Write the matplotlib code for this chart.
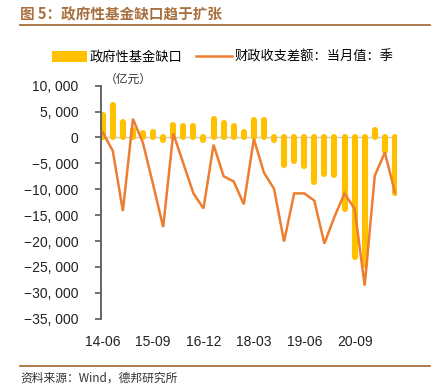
import matplotlib
matplotlib.use("Agg")
import matplotlib.pyplot as plt
from matplotlib.lines import Line2D
from matplotlib.patches import Patch
import numpy as np

plt.rcParams['font.family'] = ['Liberation Sans', 'Noto Sans CJK SC', 'DejaVu Sans']

quarters = ["14-06", "14-09", "14-12", "15-03", "15-06", "15-09", "15-12", "16-03", "16-06", "16-09",
            "16-12", "17-03", "17-06", "17-09", "17-12", "18-03", "18-06", "18-09", "18-12", "19-03",
            "19-06", "19-09", "19-12", "20-03", "20-06", "20-09", "20-12", "21-03", "21-06", "21-09"]
fund_gap = [4300, 6300, 3000, 1400, 800, 1000, -400, 2500, 2200, 2200,
            -400, 3500, 2700, 2200, 1100, 3300, 3300, -500, -5300, -4600,
            -5600, -8600, -7000, -7300, -13800, -23100, -24700, 1500, -2600, -10700]
fiscal_balance = [1000, -2600, -14200, 3600, -1100, -9100, -17300, 800, -5000, -10800,
                  -13700, -1400, -7500, -8500, -12900, -300, -6800, -9900, -20100, -10800,
                  -10800, -12200, -20500, -15300, -10800, -13800, -28600, -7400, -2900, -10600]
tick_labels = ["14-06", "15-09", "16-12", "18-03", "19-06", "20-09"]
yticks = [10000, 5000, 0, -5000, -10000, -15000, -20000, -25000, -30000, -35000]

bar_color = "#FFC000"
line_color = "#ED7D31"
brown = "#A8703F"
cjk = ['Noto Sans CJK SC', 'DejaVu Sans']

fig = plt.figure(figsize=(4.45, 3.86), dpi=100)
ax = fig.add_axes([0.2263, 0.1744, 0.6657, 0.6036])

x = np.arange(len(quarters))
ax.axhline(0, color="#C8C8C8", lw=1.0, zorder=1)
ax.vlines(x, 0, fund_gap, colors=bar_color, lw=4.4, capstyle='round', zorder=2)
ax.plot(x, fiscal_balance, color=line_color, lw=1.8, zorder=3, solid_joinstyle='miter')

ax.set_xlim(-0.2, len(quarters) - 1 + 0.2)
ax.set_ylim(-35000, 10000)
ax.set_yticks(yticks)
ax.set_yticklabels([f"{v:,}".replace("-", "\u2212").replace(",", ", ") for v in yticks],
                   fontsize=10, color="#222222")
ax.set_xticks([quarters.index(t) for t in tick_labels])
ax.set_xticklabels(tick_labels, fontsize=10, color="#222222")
ax.tick_params(axis='x', length=0, pad=12)
ax.tick_params(axis='y', length=4, width=1.2, color="#595959", pad=12)
for s in ["top", "right", "bottom"]:
    ax.spines[s].set_visible(False)
ax.spines["left"].set_color("#595959")
ax.spines["left"].set_linewidth(1.3)

fig.text(105/445, 1 - 79/386, "（亿元）", fontsize=8.5, color="#333333", va="center", ha="left",
         family=cjk)

handles = [Patch(facecolor=bar_color, edgecolor="none", label="政府性基金缺口"),
           Line2D([0], [0], color=line_color, lw=1.8, label="财政收支差额：当月值：季")]
leg = fig.legend(handles=handles, loc="center", bbox_to_anchor=(0.5, 1 - 57/386), ncol=2, frameon=False,
                 handlelength=2.7, handleheight=0.9, columnspacing=1.0, handletextpad=0.2,
                 prop={'family': cjk, 'size': 9.5})

fig.text(20/445, 1 - 14/386, "图 5：政府性基金缺口趋于扩张", fontsize=10.5, fontweight="bold", color=brown,
         va="center", ha="left", family=cjk)
fig.add_artist(Line2D([20/445, 430/445], [1 - 24.5/386, 1 - 24.5/386], color=brown, lw=1.3))
fig.add_artist(Line2D([20/445, 430/445], [1 - 365.5/386, 1 - 365.5/386], color=brown, lw=1.3))
fig.text(20/445, 1 - 378/386, "资料来源：Wind，德邦研究所", fontsize=8.5, color="#333333",
         va="center", ha="left", family=cjk)

fig.savefig("out.png", dpi=100)
